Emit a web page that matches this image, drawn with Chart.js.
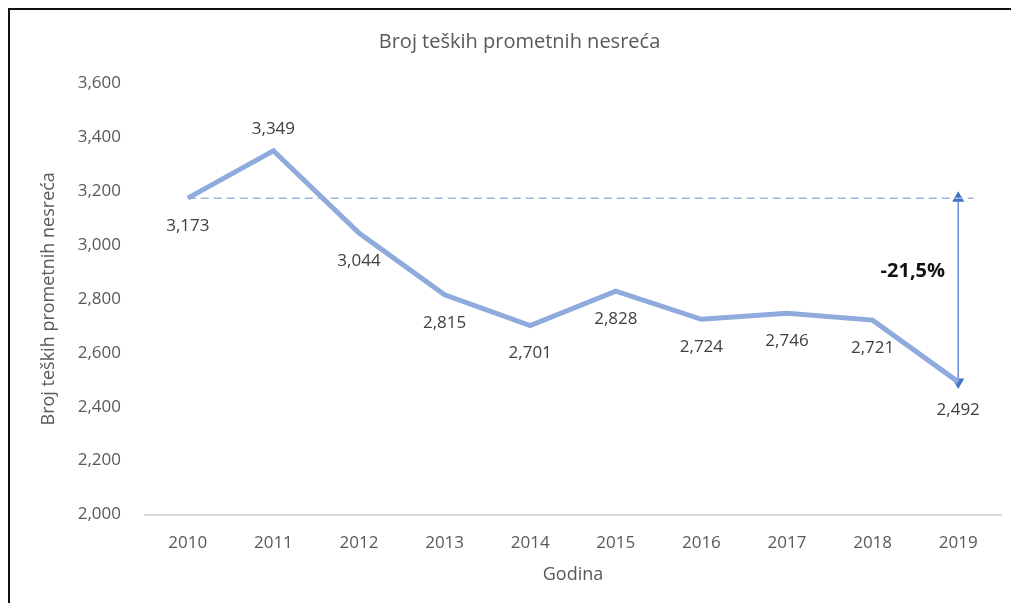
<!DOCTYPE html>
<html>
<head>
<meta charset="utf-8">
<script src="https://cdn.jsdelivr.net/npm/chart.js@4"></script>
<style>
  body { margin: 0; background: #fff; overflow: hidden; }
  #frame { position: absolute; left: 8px; top: 8px; width: 1100px; height: 700px; border: 2px solid #111; }
  #wrap { position: absolute; left: 0; top: 0; width: 1011px; height: 603px; }
</style>
</head>
<body>
<div id="frame"></div>
<div id="wrap"><canvas id="accidentChart" width="1011" height="603"></canvas></div>
<script>
// Broj teških prometnih nesreća 2010-2019
const years = [2010, 2011, 2012, 2013, 2014, 2015, 2016, 2017, 2018, 2019];
const accidents = [3173, 3349, 3044, 2815, 2701, 2828, 2724, 2746, 2721, 2492];
const labelAbove = [false, true, false, false, false, false, false, false, false, false];
const yTicks = [2000, 2200, 2400, 2600, 2800, 3000, 3200, 3400, 3600];
const baseLine = [{ x: 2010, y: 3173 }, { x: 2019.18, y: 3173 }];
const changeArrow = [{ x: 2019, y: 3173 }, { x: 2019, y: 2492 }];
const changeText = '-21,5%';
const changeTextPos = { x: 2018.47, y: 2903 };
const xTitle = 'Godina';

const fmt = v => v.toLocaleString('en-US');

const pointLabels = {
    id: 'pointLabels',
    afterDatasetsDraw(chart) {
        const ctx = chart.ctx;
        const meta = chart.getDatasetMeta(0);
        const area = chart.chartArea;
        ctx.save();
        ctx.font = '17px "Open Sans"';
        ctx.fillStyle = '#404040';
        ctx.textAlign = 'center';
        ctx.textBaseline = 'middle';
        meta.data.forEach((pt, i) => {
            const dy = labelAbove[i] ? -22 : 28;
            ctx.fillText(fmt(accidents[i]), pt.x, pt.y + dy);
        });
        // x axis title
        ctx.font = '18px "Open Sans"';
        ctx.fillStyle = '#595959';
        ctx.fillText(xTitle, (area.left + area.right) / 2, area.bottom + 60);
        // percent change label
        const xs = chart.scales.x, ys = chart.scales.y;
        ctx.font = 'bold 20px "Open Sans"';
        ctx.fillStyle = '#111';
        ctx.fillText(changeText, xs.getPixelForValue(changeTextPos.x), ys.getPixelForValue(changeTextPos.y));
        ctx.restore();
    }
};

new Chart(document.getElementById('accidentChart'), {
    type: 'line',
    data: {
        datasets: [{
            data: years.map((y, i) => ({ x: y, y: accidents[i] })),
            borderColor: '#8FAADC',
            borderWidth: 5,
            pointRadius: 0,
            tension: 0
        }, {
            data: baseLine,
            borderColor: '#9DB5E0',
            borderWidth: 1.5,
            borderDash: [8, 5],
            pointRadius: 0
        }, {
            data: changeArrow,
            borderColor: '#4472C4',
            backgroundColor: '#4472C4',
            borderWidth: 1.2,
            pointStyle: 'triangle',
            pointRadius: 7,
            pointRotation: [0, 180],
            pointBorderWidth: 0
        }]
    },
    options: {
        responsive: false,
        animation: false,
        layout: { padding: { left: 38, right: 10, top: 19, bottom: 32 } },
        plugins: {
            legend: { display: false },
            tooltip: { enabled: false },
            title: {
                display: true,
                text: 'Broj teških prometnih nesreća',
                color: '#595959',
                font: { family: '"Open Sans"', size: 20, weight: 'normal' },
                padding: { top: 11, bottom: 29 }
            }
        },
        scales: {
            x: {
                type: 'linear',
                min: 2009.5,
                max: 2019.5,
                afterBuildTicks: s => { s.ticks = years.map(v => ({ value: v })); },
                grid: { display: false, drawTicks: false },
                border: { display: true, color: '#D9D9D9', width: 2 },
                ticks: {
                    color: '#595959',
                    font: { family: '"Open Sans"', size: 17 },
                    padding: 18,
                    callback: v => String(v)
                }
            },
            y: {
                min: 2000,
                max: 3600,
                afterBuildTicks: s => { s.ticks = yTicks.map(v => ({ value: v })); },
                afterFit: s => { s.width = 107; },
                grid: { display: false, drawTicks: false },
                border: { display: false },
                ticks: {
                    color: '#595959',
                    font: { family: '"Open Sans"', size: 17 },
                    padding: 24,
                    callback: v => fmt(v)
                },
                title: {
                    display: true,
                    text: 'Broj teških prometnih nesreća',
                    color: '#595959',
                    font: { family: '"Open Sans"', size: 18 },
                    padding: { top: 0, bottom: 0 }
                }
            }
        }
    },
    plugins: [pointLabels]
});
</script>
</body>
</html>
